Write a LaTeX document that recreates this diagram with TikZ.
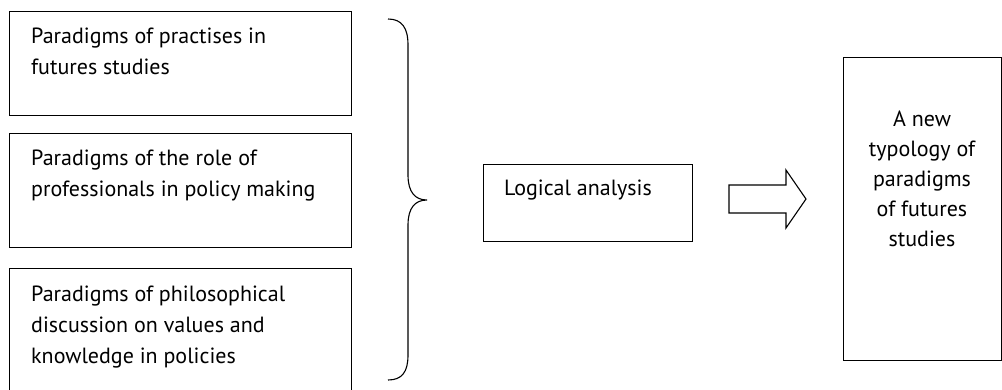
\documentclass[tikz,border=0pt]{standalone}
\usepackage{fontspec}
\setmainfont{PT Sans}
\usetikzlibrary{positioning}
\tikzset{
  parbox/.style={draw, line width=1.1pt, inner sep=0pt, anchor=north west},
  partext/.style={align=left, inner sep=0pt, anchor=north west, font=\fontsize{22}{31}\selectfont},
  restext/.style={align=center, inner sep=0pt, anchor=north, font=\fontsize{22}{30}\selectfont},
}
\begin{document}
\begin{tikzpicture}[x=1pt,y=-1pt]
  \useasboundingbox (0,0) rectangle (1002,389);
  \clip (0,0) rectangle (1002,389);
  \node [parbox, minimum width=342pt, minimum height=104pt] (practises) at (9,11) {};
  \node [parbox, minimum width=342pt, minimum height=114pt] (roles) at (9,133) {};
  \node [parbox, minimum width=342pt, minimum height=140pt] (values) at (9,268) {};
  \node [partext] (practisestext) at (31,28) {Paradigms of practises in\\futures studies};
  \node [partext] (rolestext) at (31,150) {Paradigms of the role of\\professionals in policy making};
  \node [partext] (valuestext) at (31,286) {Paradigms of philosophical\\discussion on values and\\knowledge in policies};
  \draw [line width=1.1pt] (388,19) .. controls (402,19) and (408,28) .. (408,45) -- (408,175)
    .. controls (408,192) and (415,200) .. (427,200)
    .. controls (415,200) and (408,208) .. (408,225) -- (408,355)
    .. controls (408,372) and (402,380) .. (388,380);
  \node [parbox, minimum width=209pt, minimum height=77pt] (logic) at (483,164) {};
  \node [partext] (logictext) at (504,180) {Logical analysis};
  \coordinate (tail) at (729,199);
  \draw [line width=1.1pt] (tail) ++(0,-14) -- ++(57,0) -- ++(0,-15) -- (806,199)
    -- (786,228) -- ++(0,-15) -- ++(-57,0) -- cycle;
  \node [parbox, minimum width=158pt, minimum height=303pt] (typology) at (843,57) {};
  \node [restext] (typologytext) at (922,111) {A new\\typology of\\paradigms\\of futures\\studies};
\end{tikzpicture}
\end{document}
